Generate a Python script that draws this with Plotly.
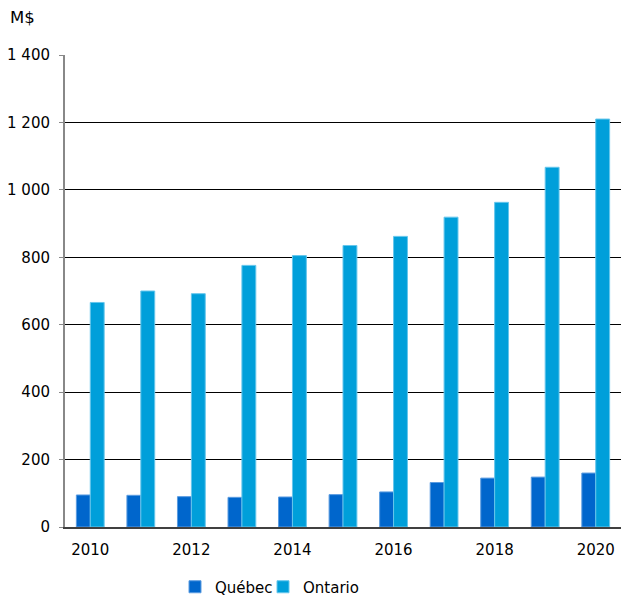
import plotly.graph_objects as go

years = [2010, 2011, 2012, 2013, 2014, 2015, 2016, 2017, 2018, 2019, 2020]
quebec = [95, 94, 90, 88, 89, 96, 104, 132, 145, 148, 160]
ontario = [666, 700, 692, 776, 805, 835, 862, 919, 963, 1067, 1210]
y_ticks = [0, 200, 400, 600, 800, 1000, 1200, 1400]
y_tick_labels = ["0", "200", "400", "600", "800", "1 000", "1 200", "1 400"]
x_ticks = [2010, 2012, 2014, 2016, 2018, 2020]

FONT = "DejaVu Sans, Verdana, sans-serif"

fig = go.Figure()
fig.add_trace(go.Bar(x=years, y=quebec, name="Québec", legend="legend",
                     marker=dict(color="#0066CC", line=dict(color="#5A9BE0", width=1))))
fig.add_trace(go.Bar(x=years, y=ontario, name="Ontario", legend="legend2",
                     marker=dict(color="#009FDA", line=dict(color="#66C6EC", width=1))))

leg_common = dict(orientation="h", yref="container", yanchor="middle", y=1 - 587 / 598,
                  xanchor="left", font=dict(size=15, family=FONT), itemwidth=30,
                  bgcolor="rgba(0,0,0,0)")

fig.update_layout(
    width=623, height=598,
    margin=dict(l=65, r=2, t=55, b=71, autoexpand=False),
    paper_bgcolor="white", plot_bgcolor="white",
    font=dict(family=FONT, size=15, color="black"),
    barmode="group", bargap=0.45, bargroupgap=0,
    showlegend=True,
    legend=dict(x=(175 - 65) / 556, **leg_common),
    legend2=dict(x=(263 - 65) / 556, **leg_common),
    xaxis=dict(range=[2009.5, 2020.5], tickvals=x_ticks, ticktext=[str(v) for v in x_ticks],
               showgrid=False, showline=True, linecolor="#404040", linewidth=2,
               ticks="", ticklen=0, ticklabelstandoff=8, zeroline=False, fixedrange=True,
               automargin=False),
    yaxis=dict(range=[0, 1400], tickvals=y_ticks, ticktext=y_tick_labels,
               showgrid=True, gridcolor="black", gridwidth=1,
               showline=True, linecolor="#888888", linewidth=2,
               ticks="outside", ticklen=4, tickcolor="#888888", ticklabelstandoff=6,
               zeroline=False, fixedrange=True, automargin=False),
    annotations=[dict(text="M$", xref="paper", yref="paper", x=(8 - 65) / 556, y=1 + 38 / 472,
                      xanchor="left", yanchor="middle", showarrow=False,
                      font=dict(size=16.5, family=FONT))],
)

fig.write_html("out.html", config={"displayModeBar": False},
               post_script="document.body.style.margin='0';")
